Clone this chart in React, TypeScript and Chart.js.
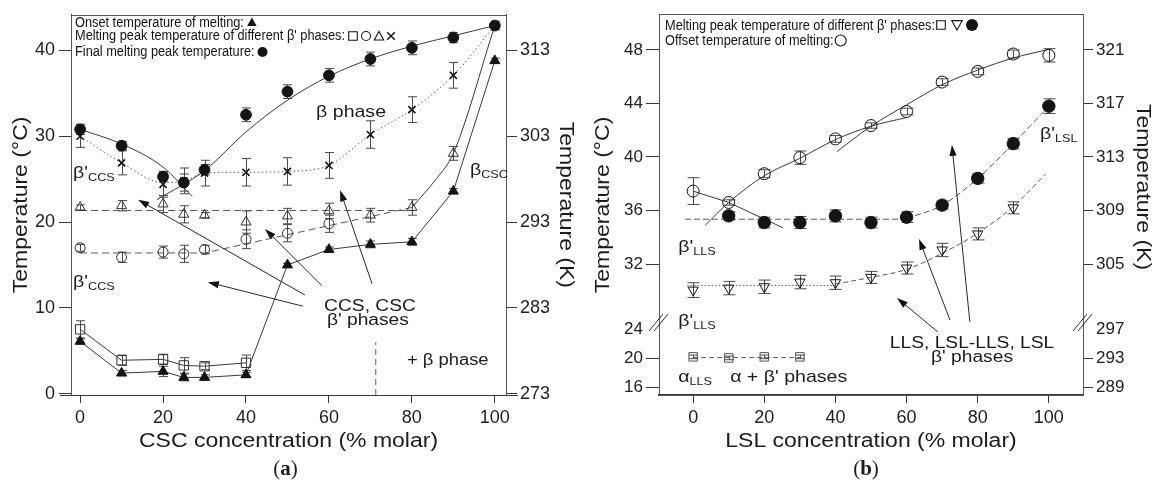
import React, { useEffect, useRef } from "react";
import { Chart, registerables } from "chart.js";

Chart.register(...registerables);

const SANS = "'Liberation Sans', Arial, Helvetica, sans-serif";
const SERIF = "'Liberation Serif', 'Times New Roman', serif";
const INK = "#141414";
const LINE = "#3a3a3a";
const SOFT = "#5a5a5a";
const WIDE = 1.15;

/* ---------------- Panel (a) : CSC concentration ---------------- */
const aConc = [0, 10, 20, 25, 30, 40, 50, 60, 70, 80, 90, 100];
const aFinalPeak = [30.8, 28.9, 25.3, 24.6, 26.1, 32.5, 35.2, 37.1, 39.0, 40.3, 41.5, 42.9];
const aFinalPeakErr = [0.6, 0.5, 0.5, 1.0, 0.6, 0.8, 0.8, 0.8, 0.8, 0.8, 0.6, 0.5];
const aOnset = [6.1, 2.4, 2.6, 1.9, 1.9, 2.2, 15.0, 16.8, 17.4, 17.7, 23.6, 38.8];
const aOnsetErr = [0.3, 0.3, 0.6, 0.4, 0.3, 0.3, 0.2, 0.3, 0.4, 0.4, 0.3, 0.3];
const aCrossConc = [0, 10, 20, 25, 30, 40, 50, 60, 70, 80, 90];
const aCrossPeak = [30.0, 26.9, 24.4, 24.8, 25.7, 25.8, 25.9, 26.6, 30.2, 33.1, 37.1];
const aCrossErr = [1.3, 1.4, 1.5, 1.5, 1.5, 1.6, 1.6, 1.5, 1.6, 1.5, 1.5];
const aTriConc = [0, 10, 20, 25, 30, 40, 50, 60, 70, 80, 90];
const aTriPeak = [21.7, 21.9, 22.1, 20.9, 20.8, 20.0, 20.7, 21.3, 20.8, 21.7, 28.0];
const aTriErr = [0.3, 0.6, 1.0, 1.0, 0.3, 1.3, 0.9, 0.9, 0.8, 0.9, 0.8];
const aCircConc = [0, 10, 20, 25, 30, 40, 50, 60];
const aCircPeak = [17.0, 15.9, 16.5, 16.3, 16.8, 18.0, 18.7, 19.8];
const aCircErr = [0.4, 0.6, 0.7, 1.0, 0.5, 1.1, 1.0, 1.0];
const aSqConc = [0, 10, 20, 25, 30, 40];
const aSqPeak = [7.5, 3.9, 4.0, 3.3, 3.2, 3.6];
const aSqErr = [1.0, 0.6, 0.6, 0.9, 0.4, 0.9];

// guide curves of panel (a)
const aFitFinalDownX = [0, 10, 20, 27];
const aFitFinalDownY = [30.8, 29.1, 26.4, 23.0];
const aFitFinalUpX = [18.5, 30, 40, 50, 60, 70, 80, 90, 100];
const aFitFinalUpY = [22.6, 26.0, 30.5, 34.2, 37.0, 39.0, 40.5, 41.7, 42.9];
const aFitCrossX = [0, 10, 20, 25, 30, 40, 50, 60, 70, 80, 90, 100];
const aFitCrossY = [30.0, 26.9, 24.6, 24.8, 25.7, 25.8, 25.9, 26.6, 30.2, 33.1, 37.1, 42.9];
const aFitTriFlatX = [0, 80];
const aFitTriFlatY = [21.35, 21.35];
const aFitTriUpX = [80, 86, 90, 100];
const aFitTriUpY = [21.7, 25.1, 28.0, 42.9];
const aFitCircX = [0, 30, 80];
const aFitCircY = [16.4, 16.4, 21.7];
const aBoundaryX = [71.3, 71.3];
const aBoundaryY = [-0.15, 6.0];

const aXTicks = [0, 20, 40, 60, 80, 100];
const aYTicks = [0, 10, 20, 30, 40];
const aKTicks = [273, 283, 293, 303, 313];

// annotation arrows (from [conc, T] to tip [conc, T])
const aArrows = [
  [54.2, 11.5, 14.0, 22.6],
  [53.7, 10.2, 30.8, 13.0],
  [58.3, 12.6, 44.6, 19.2],
  [70.4, 12.8, 62.7, 23.7],
];

/* ---------------- Panel (b) : LSL concentration ---------------- */
const bConc = [0, 10, 20, 30, 40, 50, 60, 70, 80, 90, 100];
const bOffset = [37.45, 36.6, 38.75, 39.95, 41.35, 42.35, 43.4, 45.6, 46.4, 47.7, 47.6];
const bOffsetErr = [1.0, 0.2, 0.3, 0.5, 0.25, 0.2, 0.25, 0.25, 0.25, 0.3, 0.5];
const bFilledConc = [10, 20, 30, 40, 50, 60, 70, 80, 90, 100];
const bFilledPeak = [35.6, 35.1, 35.1, 35.6, 35.1, 35.5, 36.4, 38.4, 41.0, 43.8];
const bFilledErr = [0.3, 0.4, 0.45, 0.45, 0.4, 0.4, 0.3, 0.35, 0.4, 0.55];
const bTriConc = [0, 10, 20, 30, 40, 50, 60, 70, 80, 90];
const bTriPeak = [30.05, 30.2, 30.3, 30.65, 30.6, 31.0, 31.7, 33.05, 34.25, 36.2];
const bTriErr = [0.55, 0.5, 0.5, 0.5, 0.5, 0.45, 0.45, 0.5, 0.45, 0.45];
const bSqConc = [0, 10, 20, 30];
const bSqPeak = [20.2, 20.05, 20.2, 20.2];
const bSqErr = [0.25, 0.25, 0.25, 0.25];

const bFitOffAX = [0, 10, 25.3];
const bFitOffAY = [37.45, 36.6, 34.7];
const bFitOffBX = [3.4, 10, 20, 30, 40, 50, 60];
const bFitOffBY = [34.9, 36.6, 38.6, 39.9, 41.3, 42.3, 42.95];
const bFitOffCX = [40.4, 50, 60, 70, 80, 90, 100];
const bFitOffCY = [40.4, 42.3, 43.9, 45.4, 46.5, 47.4, 48.05];
const bFitFilledFlatX = [-2.3, 60];
const bFitFilledFlatY = [35.35, 35.35];
const bFitFilledUpX = [60, 70, 80, 90, 100];
const bFitFilledUpY = [35.4, 36.4, 38.4, 41.0, 43.8];
const bFitTriFlatX = [-1.7, 40];
const bFitTriFlatY = [30.4, 30.4];
const bFitTriUpX = [40, 50, 60, 70, 80, 90, 99];
const bFitTriUpY = [30.5, 31.0, 31.6, 32.8, 34.3, 36.3, 38.7];
const bFitSqX = [0, 30];
const bFitSqY = [20.1, 20.1];

const bXTicks = [0, 20, 40, 60, 80, 100];
const bYTopTicks = [32, 36, 40, 44, 48];
const bYBotTicks = [16, 20, 24];
const bKTopTicks = [305, 309, 313, 317, 321];
const bKBotTicks = [289, 293, 297];

const bArrows = [
  [68.8, 26.92, 57.3, 29.46],
  [72.2, 27.81, 63.5, 33.87],
  [77.8, 27.66, 72.75, 40.9],
];

/* ---------------- helpers ---------------- */
const pts = (xs: number[], ys: number[]) => xs.map((x, i) => ({ x, y: ys[i] }));

function markers(xs: number[], ys: number[], errs: number[], o: any) {
  return {
    data: pts(xs, ys),
    errors: errs,
    showLine: false,
    pointStyle: o.style,
    pointRadius: o.r,
    pointRotation: o.rot || 0,
    pointBackgroundColor: o.fill ? INK : "rgba(0,0,0,0)",
    backgroundColor: o.fill ? INK : "rgba(0,0,0,0)",
    pointBorderColor: o.color || INK,
    borderColor: o.lineColor || LINE,
    pointBorderWidth: o.bw || 1,
    borderWidth: 1,
    capHalf: o.cap || 4.5,
    yAxisID: o.axis || "y",
  };
}

function guide(xs: number[], ys: number[], o: any) {
  return {
    data: pts(xs, ys),
    showLine: true,
    pointRadius: 0,
    borderColor: o.color || LINE,
    backgroundColor: "rgba(0,0,0,0)",
    borderWidth: o.w || 1,
    borderDash: o.dash || [],
    tension: 0,
    cubicInterpolationMode: o.smooth ? "monotone" : "default",
    yAxisID: o.axis || "y",
    fill: false,
  };
}

function axis(position: string, min: number, max: number, tickVals: number[], size: number, tickLen: number, fontSize: number, o: any = {}) {
  const hide: number[] = o.hide || [];
  return {
    type: "linear",
    axis: position === "bottom" ? "x" : "y",
    position,
    min,
    max,
    bounds: "data",
    afterBuildTicks: (s: any) => {
      s.ticks = tickVals.map((v) => ({ value: v }));
    },
    afterFit: (s: any) => {
      if (position === "bottom") s.height = size;
      else s.width = size;
    },
    grid: {
      drawOnChartArea: false,
      drawTicks: true,
      tickLength: tickLen,
      tickWidth: 1,
      tickColor: (c: any) => (c.tick && hide.includes(c.tick.value) ? "rgba(0,0,0,0)" : LINE),
    },
    border: { display: true, color: LINE, width: o.borderWidth || 1 },
    ticks: {
      font: { family: SANS, size: fontSize },
      color: "#222",
      padding: o.pad ?? 3,
      autoSkip: false,
      maxRotation: 0,
    },
    ...(o.extra || {}),
  };
}

type Seg = { t: string; s?: number; dy?: number; font?: string };
function rich(ctx: CanvasRenderingContext2D, segs: Seg[], x: number, y: number, align = "left", rot = 0, k = WIDE) {
  ctx.save();
  ctx.translate(x, y);
  if (rot) ctx.rotate(rot);
  ctx.scale(k, 1);
  const fonts = segs.map((s) => s.font || `${s.s}px ${SANS}`);
  let total = 0;
  segs.forEach((s, i) => {
    ctx.font = fonts[i];
    total += ctx.measureText(s.t).width;
  });
  let cx = align === "center" ? -total / 2 : align === "right" ? -total : 0;
  ctx.fillStyle = "#1c1c1c";
  ctx.textAlign = "left";
  ctx.textBaseline = "alphabetic";
  segs.forEach((s, i) => {
    ctx.font = fonts[i];
    ctx.fillText(s.t, cx, s.dy || 0);
    cx += ctx.measureText(s.t).width;
  });
  ctx.restore();
}

function arrow(ctx: CanvasRenderingContext2D, x1: number, y1: number, x2: number, y2: number) {
  const a = Math.atan2(y2 - y1, x2 - x1);
  const L = 11, W = 3.6;
  ctx.save();
  ctx.strokeStyle = "#2a2a2a";
  ctx.fillStyle = "#111";
  ctx.lineWidth = 1;
  ctx.beginPath();
  ctx.moveTo(x1, y1);
  ctx.lineTo(x2 - Math.cos(a) * L * 0.8, y2 - Math.sin(a) * L * 0.8);
  ctx.stroke();
  ctx.beginPath();
  ctx.moveTo(x2, y2);
  ctx.lineTo(x2 - L * Math.cos(a) + W * Math.sin(a), y2 - L * Math.sin(a) - W * Math.cos(a));
  ctx.lineTo(x2 - L * Math.cos(a) - W * Math.sin(a), y2 - L * Math.sin(a) + W * Math.cos(a));
  ctx.closePath();
  ctx.fill();
  ctx.restore();
}

function glyph(ctx: CanvasRenderingContext2D, kind: string, x: number, y: number, r: number) {
  ctx.save();
  ctx.strokeStyle = INK;
  ctx.fillStyle = INK;
  ctx.lineWidth = 1.1;
  ctx.beginPath();
  if (kind === "triF" || kind === "triO") {
    ctx.moveTo(x, y - r);
    ctx.lineTo(x + r * 0.95, y + r * 0.7);
    ctx.lineTo(x - r * 0.95, y + r * 0.7);
    ctx.closePath();
  } else if (kind === "triD") {
    ctx.moveTo(x, y + r);
    ctx.lineTo(x + r * 0.95, y - r * 0.7);
    ctx.lineTo(x - r * 0.95, y - r * 0.7);
    ctx.closePath();
  } else if (kind === "circF" || kind === "circO") {
    ctx.arc(x, y, r, 0, Math.PI * 2);
  } else if (kind === "sq") {
    ctx.rect(x - r, y - r, 2 * r, 2 * r);
  } else if (kind === "cross") {
    ctx.lineWidth = 1.5;
    ctx.moveTo(x - r, y - r);
    ctx.lineTo(x + r, y + r);
    ctx.moveTo(x + r, y - r);
    ctx.lineTo(x - r, y + r);
  }
  if (kind === "triF" || kind === "circF") ctx.fill();
  else ctx.stroke();
  ctx.restore();
}

const LEG_REF = "Melting peak temperature of different β' phases:";
function legendText(ctx: CanvasRenderingContext2D, text: string, x: number, y: number) {
  ctx.save();
  ctx.font = `14px ${SANS}`;
  const k = 270 / ctx.measureText(LEG_REF).width;
  const w = ctx.measureText(text).width * k;
  ctx.translate(x, y);
  ctx.scale(k, 1);
  ctx.fillStyle = INK;
  ctx.textAlign = "left";
  ctx.textBaseline = "alphabetic";
  ctx.fillText(text, 0, 0);
  ctx.restore();
  return x + w;
}

function frame(ctx: CanvasRenderingContext2D, ca: any) {
  ctx.save();
  ctx.strokeStyle = "#555";
  ctx.lineWidth = 1;
  ctx.strokeRect(Math.round(ca.left) + 0.5, Math.round(ca.top) + 0.5, Math.round(ca.right - ca.left), Math.round(ca.bottom - ca.top));
  ctx.restore();
}

function panelTag(ctx: CanvasRenderingContext2D, letter: string, cx: number, y: number) {
  rich(
    ctx,
    [
      { t: "(", font: `21px ${SERIF}` },
      { t: letter, font: `bold 21px ${SERIF}` },
      { t: ")", font: `21px ${SERIF}` },
    ],
    cx,
    y,
    "center",
    0,
    1
  );
}

const errorBars = {
  id: "errorBars",
  beforeDatasetsDraw(chart: any) {
    const ctx = chart.ctx;
    chart.data.datasets.forEach((ds: any, i: number) => {
      if (!ds.errors) return;
      const meta = chart.getDatasetMeta(i);
      const ys = chart.scales[meta.yAxisID];
      const h = ds.capHalf || 4.5;
      ctx.save();
      ctx.strokeStyle = "#4a4a4a";
      ctx.lineWidth = 1;
      ds.data.forEach((p: any, j: number) => {
        const e = ds.errors[j];
        if (!e) return;
        const x = Math.round(meta.data[j].x) + 0.5;
        const y1 = ys.getPixelForValue(p.y - e);
        const y2 = ys.getPixelForValue(p.y + e);
        ctx.beginPath();
        ctx.moveTo(x, y1);
        ctx.lineTo(x, y2);
        ctx.moveTo(x - h, y1);
        ctx.lineTo(x + h, y1);
        ctx.moveTo(x - h, y2);
        ctx.lineTo(x + h, y2);
        ctx.stroke();
      });
      ctx.restore();
    });
  },
};

const panelAPlugin = {
  id: "panelA",
  afterDraw(chart: any) {
    const { ctx, chartArea: ca, scales } = chart;
    const X = (v: number) => scales.x.getPixelForValue(v);
    const Y = (v: number) => scales.y.getPixelForValue(v);
    frame(ctx, ca);
    ctx.save();
    ctx.strokeStyle = LINE;
    ctx.lineWidth = 1;
    const yb = Math.round(ca.bottom) + 0.5;
    ctx.beginPath();
    ctx.moveTo(ca.left - 11, yb);
    ctx.lineTo(ca.right + 12, yb);
    ctx.stroke();
    ctx.restore();

    for (const [c1, t1, c2, t2] of aArrows) arrow(ctx, X(c1), Y(t1), X(c2), Y(t2));

    rich(ctx, [{ t: "β'", s: 17 }, { t: "CCS", s: 11, dy: 3 }], X(-1.7), Y(25.1));
    rich(ctx, [{ t: "β'", s: 17 }, { t: "CCS", s: 11, dy: 3 }], X(-1.7), Y(12.4));
    rich(ctx, [{ t: "β phase", s: 17 }], X(56.9), Y(32.3));
    rich(ctx, [{ t: "β", s: 17 }, { t: "CSC", s: 11, dy: 3 }], X(94), Y(25.5));
    rich(ctx, [{ t: "CCS, CSC", s: 16 }], X(69.9), Y(9.62), "center", 0, 1.2);
    rich(ctx, [{ t: "β' phases", s: 16 }], X(69.4), Y(8.05), "center", 0, 1.2);
    rich(ctx, [{ t: "+ β phase", s: 16 }], X(78.8), Y(3.37));

    const midY = (ca.top + ca.bottom) / 2;
    rich(ctx, [{ t: "Temperature (°C)", s: 20 }], 26.5, midY, "center", -Math.PI / 2);
    rich(ctx, [{ t: "Temperature (K)", s: 20 }], chart.width - 18, midY, "center", Math.PI / 2);
    rich(ctx, [{ t: "CSC concentration (% molar)", s: 20 }], (ca.left + ca.right) / 2, 447, "center");
    panelTag(ctx, "a", (ca.left + ca.right) / 2 - 3, 475);

    const lx = ca.left + 4;
    let e = legendText(ctx, "Onset temperature of melting:", lx, 26.5);
    glyph(ctx, "triF", e + 8, 22.5, 5);
    e = legendText(ctx, LEG_REF, lx, 40);
    glyph(ctx, "sq", e + 8, 36, 4.3);
    glyph(ctx, "circO", e + 21, 36, 4.5);
    glyph(ctx, "triO", e + 34, 36.5, 5);
    glyph(ctx, "cross", e + 46, 36, 3.8);
    e = legendText(ctx, "Final melting peak temperature:", lx, 56);
    glyph(ctx, "circF", e + 8, 52, 5);
  },
};

const panelBPlugin = {
  id: "panelB",
  afterDraw(chart: any) {
    const { ctx, chartArea: ca, scales } = chart;
    const X = (v: number) => scales.x.getPixelForValue(v);
    const YT = (v: number) => scales.yTop.getPixelForValue(v);
    const YB = (v: number) => scales.yBot.getPixelForValue(v);
    frame(ctx, ca);

    // axis break marks
    const bnd = scales.yBot.top;
    ctx.save();
    ctx.strokeStyle = "#333";
    ctx.lineWidth = 1;
    for (const edge of [ca.left, ca.right]) {
      for (const off of [0, 5]) {
        ctx.beginPath();
        ctx.moveTo(edge - 10 + off, bnd + 6);
        ctx.lineTo(edge + 4 + off, bnd - 11);
        ctx.stroke();
      }
    }
    ctx.restore();

    for (const [c1, t1, c2, t2] of bArrows) arrow(ctx, X(c1), YT(t1), X(c2), YT(t2));

    rich(ctx, [{ t: "β'", s: 17 }, { t: "LLS", s: 11, dy: 3 }], X(-4.2), YT(32.9));
    rich(ctx, [{ t: "β'", s: 17 }, { t: "LLS", s: 11, dy: 3 }], X(-4.2), YT(27.36));
    rich(ctx, [{ t: "α", s: 17 }, { t: "LLS", s: 11, dy: 3 }], X(-4.2), YB(16.73));
    rich(ctx, [{ t: "α + β' phases", s: 17 }], X(10.4), YB(16.73));
    rich(ctx, [{ t: "β'", s: 17 }, { t: "LSL", s: 11, dy: 3 }], X(97.5), YT(41.35));
    rich(ctx, [{ t: "LLS, LSL-LLS, LSL", s: 16 }], X(78.4), YT(25.72), "center", 0, 1.2);
    rich(ctx, [{ t: "β' phases", s: 16 }], X(78.4), YT(24.7), "center", 0, 1.2);

    rich(ctx, [{ t: "Temperature (°C)", s: 20 }], 30.5, 205, "center", -Math.PI / 2);
    rich(ctx, [{ t: "Temperature (K)", s: 20 }], chart.width - 18, 187, "center", Math.PI / 2);
    rich(ctx, [{ t: "LSL concentration (% molar)", s: 20 }], (ca.left + ca.right) / 2, 447, "center");
    panelTag(ctx, "b", (ca.left + ca.right) / 2 - 5, 475);

    const lx = ca.left + 6;
    let e = legendText(ctx, LEG_REF, lx, 29.5);
    glyph(ctx, "sq", e + 6, 25, 4.3);
    glyph(ctx, "triD", e + 22, 24.5, 5.5);
    glyph(ctx, "circF", e + 37, 25, 6);
    e = legendText(ctx, "Offset temperature of melting:", lx, 44.5);
    glyph(ctx, "circO", e + 7, 40.5, 5.5);
  },
};

const baseOptions = {
  animation: false,
  responsive: true,
  maintainAspectRatio: false,
  devicePixelRatio: 1,
  events: [],
  layout: { padding: { top: 14, left: 0, right: 0, bottom: 0 } },
  plugins: { legend: { display: false }, tooltip: { enabled: false }, colors: { enabled: false } },
};

function configA() {
  return {
    type: "scatter",
    data: {
      datasets: [
        markers(aConc, aFinalPeak, aFinalPeakErr, { style: "circle", r: 5.4, fill: true }),
        { ...markers(aConc, aOnset, aOnsetErr, { style: "triangle", r: 5.8, fill: true }), showLine: true },
        markers(aCrossConc, aCrossPeak, aCrossErr, { style: "crossRot", r: 5, bw: 1.6 }),
        markers(aTriConc, aTriPeak, aTriErr, { style: "triangle", r: 5.8, color: "#333" }),
        markers(aCircConc, aCircPeak, aCircErr, { style: "circle", r: 5, color: "#333" }),
        { ...markers(aSqConc, aSqPeak, aSqErr, { style: "rect", r: 6.6, color: "#333" }), showLine: true },
        guide(aFitFinalDownX, aFitFinalDownY, { smooth: true }),
        guide(aFitFinalUpX, aFitFinalUpY, { smooth: true }),
        guide(aFitCrossX, aFitCrossY, { smooth: true, dash: [1.5, 2.5], color: SOFT }),
        guide(aFitTriFlatX, aFitTriFlatY, { dash: [7, 4], color: SOFT }),
        guide(aFitTriUpX, aFitTriUpY, { smooth: true }),
        guide(aFitCircX, aFitCircY, { dash: [7, 4], color: SOFT }),
        guide(aBoundaryX, aBoundaryY, { dash: [6, 4], color: SOFT }),
      ],
    },
    options: {
      ...baseOptions,
      scales: {
        x: axis("bottom", -2.2, 102.7, aXTicks, 86, 8, 18, { pad: 4 }),
        y: axis("left", -0.15, 44.15, aYTicks, 71, 12, 18, { pad: 4 }),
        k: axis("right", 272.85, 317.15, aKTicks, 72, 11, 18, { pad: 3 }),
      },
    },
    plugins: [errorBars, panelAPlugin],
  };
}

function configB() {
  return {
    type: "scatter",
    data: {
      datasets: [
        markers(bConc, bOffset, bOffsetErr, { style: "circle", r: 6, axis: "yTop", cap: 6 }),
        markers(bFilledConc, bFilledPeak, bFilledErr, { style: "circle", r: 6.2, fill: true, axis: "yTop", cap: 6 }),
        markers(bTriConc, bTriPeak, bTriErr, { style: "triangle", r: 6, rot: 180, axis: "yTop", cap: 6 }),
        markers(bSqConc, bSqPeak, bSqErr, { style: "rect", r: 6, color: "#555", axis: "yBot", cap: 4.5 }),
        guide(bFitOffAX, bFitOffAY, { axis: "yTop" }),
        guide(bFitOffBX, bFitOffBY, { axis: "yTop", smooth: true }),
        guide(bFitOffCX, bFitOffCY, { axis: "yTop", smooth: true }),
        guide(bFitFilledFlatX, bFitFilledFlatY, { axis: "yTop", dash: [6, 3], color: SOFT }),
        guide(bFitFilledUpX, bFitFilledUpY, { axis: "yTop", dash: [6, 3], color: SOFT, smooth: true }),
        guide(bFitTriFlatX, bFitTriFlatY, { axis: "yTop", dash: [1.5, 2], color: SOFT }),
        guide(bFitTriUpX, bFitTriUpY, { axis: "yTop", dash: [5, 3], color: SOFT, smooth: true }),
        guide(bFitSqX, bFitSqY, { axis: "yBot", dash: [5, 3], color: SOFT }),
      ],
    },
    options: {
      ...baseOptions,
      scales: {
        x: axis("bottom", -9.6, 109.6, bXTicks, 86, 8, 18, { pad: 4, borderWidth: 2 }),
        yTop: axis("left", 27.44, 50.69, bYTopTicks, 81, 13, 17, { extra: { stack: "L", stackWeight: 311, weight: 1 } }),
        yBot: axis("left", 14.94, 24.59, bYBotTicks, 81, 13, 17, { hide: [24], extra: { stack: "L", stackWeight: 70, weight: 0 } }),
        kTop: axis("right", 300.44, 323.69, bKTopTicks, 72, 10, 17, { extra: { stack: "R", stackWeight: 311, weight: 0 } }),
        kBot: axis("right", 287.94, 297.59, bKBotTicks, 72, 10, 17, { hide: [297], extra: { stack: "R", stackWeight: 70, weight: 1 } }),
      },
    },
    plugins: [errorBars, panelBPlugin],
  };
}

export default function App() {
  const aRef = useRef<HTMLCanvasElement | null>(null);
  const bRef = useRef<HTMLCanvasElement | null>(null);
  useEffect(() => {
    const ca = new Chart(aRef.current as HTMLCanvasElement, configA() as any);
    const cb = new Chart(bRef.current as HTMLCanvasElement, configB() as any);
    return () => {
      ca.destroy();
      cb.destroy();
    };
  }, []);
  return (
    <div style={{ position: "absolute", left: 0, top: 0, width: 1155, height: 481, background: "#fff", overflow: "hidden" }}>
      <div style={{ position: "absolute", left: 0, top: 0, width: 578, height: 481 }}>
        <canvas ref={aRef} />
      </div>
      <div style={{ position: "absolute", left: 578, top: 0, width: 577, height: 481 }}>
        <canvas ref={bRef} />
      </div>
    </div>
  );
}
